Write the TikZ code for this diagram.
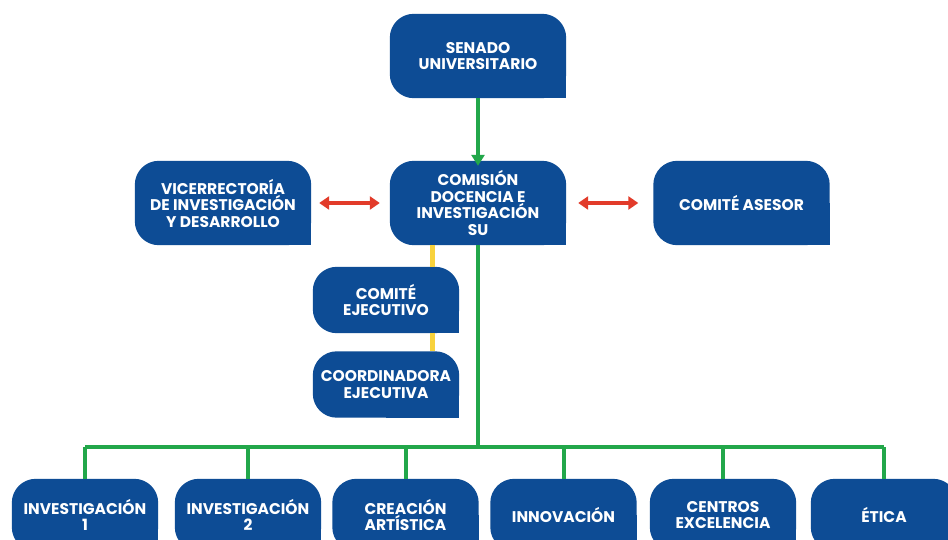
\documentclass[tikz,border=0pt]{standalone}
\usepackage{fontspec}
\setmainfont{Poppins}
\usetikzlibrary{backgrounds,arrows.meta}
\definecolor{boxblue}{HTML}{0D4C95}
\definecolor{lgreen}{HTML}{22A74A}
\definecolor{lyellow}{HTML}{F8D23C}
\definecolor{lred}{HTML}{E23B2A}
\tikzset{
  blk/.style={inner sep=0pt, text=white, align=center, font=\bfseries\fontsize{15.5}{16.5}\selectfont},
  bigbox/.style={blk, minimum width=176pt, minimum height=84pt},
  midbox/.style={blk, minimum width=146pt, minimum height=66pt},
  lowbox/.style={blk, minimum width=146pt, minimum height=72pt},
  gline/.style={draw=lgreen, line width=4pt},
  yline/.style={draw=lyellow, line width=5pt},
  rarrow/.style={draw=lred, line width=3.5pt, {Triangle[length=10pt,width=13pt]}-{Triangle[length=10pt,width=13pt]}},
}
\newcommand{\bluebox}[1]{%
  \fill[boxblue, rounded corners=24pt] (#1.south west) rectangle (#1.north east);
  \fill[boxblue] (#1.center) rectangle (#1.south east);}
\begin{document}
\begin{tikzpicture}[x=1pt,y=-1pt]
\useasboundingbox (0,0) rectangle (948,540);
\clip (0,0) rectangle (948,540);
\node[bigbox] (sen) at (478,56) {SENADO\\UNIVERSITARIO};
\node[bigbox] (com) at (478,203) {COMISIÓN\\DOCENCIA E\\INVESTIGACIÓN\\SU};
\node[bigbox] (vic) at (223,203) {VICERRECTORÍA\\DE INVESTIGACIÓN\\Y DESARROLLO};
\node[bigbox] (ase) at (741.5,203) {COMITÉ ASESOR};
\node[midbox] (eje) at (386,300) {COMITÉ\\EJECUTIVO};
\node[midbox] (coo) at (386,384.5) {COORDINADORA\\EJECUTIVA};
\node[lowbox] (i1) at (85,515) {INVESTIGACIÓN\\1};
\node[lowbox] (i2) at (248,515) {INVESTIGACIÓN\\2};
\node[lowbox] (cre) at (405.5,515) {CREACIÓN\\ARTÍSTICA};
\node[lowbox] (inn) at (563.5,515) {INNOVACIÓN};
\node[lowbox] (cen) at (723,515) {CENTROS\\EXCELENCIA};
\node[lowbox] (eti) at (884,515) {ÉTICA};
\coordinate (bus) at (478,447);
\begin{scope}[on background layer]
  \fill[white] (0,0) rectangle (948,540);
  \foreach \n in {sen,com,vic,ase,eje,coo,i1,i2,cre,inn,cen,eti} {\bluebox{\n}}
\end{scope}
% green arrow
\draw[gline, -{Triangle[length=11pt,width=13pt]}] (sen.south) -- ([yshift=-5pt]com.north);
% red arrows
\draw[rarrow] ([xshift=8pt]vic.east) -- ([xshift=-10pt]com.west);
\draw[rarrow] ([xshift=12pt]com.east) -- ([xshift=-15pt]ase.west);
% yellow
\draw[yline] (com.south -| 432,0) -- (eje.north -| 432,0);
\draw[yline] (eje.south -| 432,0) -- (coo.north -| 432,0);
% green bus
\draw[gline] (com.south) -- (bus);
\draw[gline] (bus -| i1.north) -- (bus -| eti.north);
\foreach \n in {i1,i2,cre,inn,cen,eti} {\draw[gline] (bus -| \n.north) -- (\n.north);}
\end{tikzpicture}
\end{document}
